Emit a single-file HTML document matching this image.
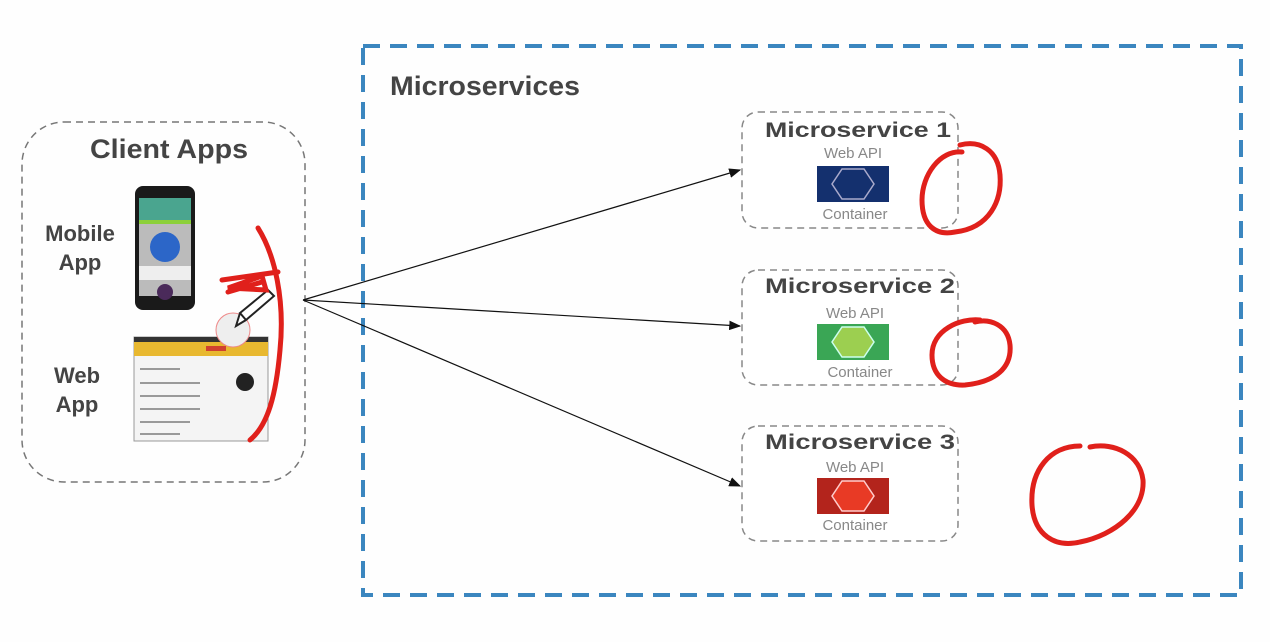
<!DOCTYPE html>
<html><head><style>body{margin:0;background:#fff}svg{display:block}</style></head><body>
<svg width="1270" height="642" viewBox="0 0 1270 642" xmlns="http://www.w3.org/2000/svg" font-family="Liberation Sans, sans-serif">
<defs><marker id="a" markerWidth="10" markerHeight="8" refX="9" refY="4" orient="auto"><path d="M0,0 L10,4 L0,8 z" fill="#111"/></marker></defs>
<rect x="0" y="0" width="1270" height="642" fill="#fefefe"/>
<rect x="363" y="46" width="878" height="549" fill="none" stroke="#3b86bf" stroke-width="4" stroke-dasharray="17 10"/>
<text x="390" y="95" font-size="27" font-weight="bold" fill="#444" textLength="190" lengthAdjust="spacingAndGlyphs">Microservices</text>
<rect x="22" y="122" width="283" height="360" rx="42" fill="none" stroke="#777" stroke-width="1.5" stroke-dasharray="7 5"/>
<text x="90" y="158" font-size="27" font-weight="bold" fill="#444" textLength="158" lengthAdjust="spacingAndGlyphs">Client Apps</text>
<text x="80" y="241" font-size="22" font-weight="bold" fill="#444" text-anchor="middle">Mobile</text>
<text x="80" y="270" font-size="22" font-weight="bold" fill="#444" text-anchor="middle">App</text>
<text x="77" y="383" font-size="22" font-weight="bold" fill="#444" text-anchor="middle">Web</text>
<text x="77" y="412" font-size="22" font-weight="bold" fill="#444" text-anchor="middle">App</text>
<!-- phone -->
<rect x="135" y="186" width="60" height="124" rx="8" fill="#1a1a1a"/>
<rect x="139" y="198" width="52" height="98" fill="#bbb"/>
<rect x="139" y="198" width="52" height="22" fill="#4aa58f"/>
<rect x="139" y="220" width="52" height="4" fill="#8cd03a"/>
<circle cx="165" cy="247" r="15" fill="#2c66c8"/>
<rect x="139" y="266" width="52" height="14" fill="#eee"/>
<circle cx="165" cy="292" r="8" fill="#4a2a5a"/>
<!-- web -->
<rect x="134" y="337" width="134" height="104" fill="#f4f4f4" stroke="#999"/>
<rect x="134" y="337" width="134" height="5" fill="#333"/>
<rect x="134" y="342" width="134" height="14" fill="#e8b830"/>
<rect x="206" y="346" width="20" height="5" fill="#d04030"/>
<circle cx="245" cy="382" r="9" fill="#222"/>
<g fill="#999"><rect x="140" y="368" width="40" height="2"/><rect x="140" y="382" width="60" height="2"/><rect x="140" y="395" width="60" height="2"/><rect x="140" y="408" width="60" height="2"/><rect x="140" y="421" width="50" height="2"/><rect x="140" y="433" width="40" height="2"/></g>
<circle cx="233" cy="330" r="17" fill="#eee" stroke="#e88" stroke-width="1"/>
<path d="M240,313 L268,290 L274,296 L246,320 Z M240,313 L236,326 L246,320" fill="#fff" stroke="#222" stroke-width="2"/>
<!-- arrows -->
<g stroke="#111" stroke-width="1.2" marker-end="url(#a)">
<line x1="303" y1="300" x2="740" y2="170"/>
<line x1="303" y1="300" x2="740" y2="326"/>
<line x1="303" y1="300" x2="740" y2="486"/>
</g>
<!-- microservices -->
<g font-size="21" font-weight="bold" fill="#444">
<rect x="742" y="112" width="216" height="116" rx="16" fill="#fff" stroke="#888" stroke-width="1.5" stroke-dasharray="7 5"/>
<text x="765" y="137" textLength="186" lengthAdjust="spacingAndGlyphs">Microservice 1</text>
<rect x="742" y="270" width="216" height="115" rx="16" fill="#fff" stroke="#888" stroke-width="1.5" stroke-dasharray="7 5"/>
<text x="765" y="293" textLength="190" lengthAdjust="spacingAndGlyphs">Microservice 2</text>
<rect x="742" y="426" width="216" height="115" rx="16" fill="#fff" stroke="#888" stroke-width="1.5" stroke-dasharray="7 5"/>
<text x="765" y="449" textLength="190" lengthAdjust="spacingAndGlyphs">Microservice 3</text>
</g>
<g font-size="15" fill="#888" text-anchor="middle">
<text x="853" y="158">Web API</text><text x="855" y="219">Container</text>
<text x="855" y="318">Web API</text><text x="860" y="377">Container</text>
<text x="855" y="472">Web API</text><text x="855" y="530">Container</text>
</g>
<rect x="817" y="166" width="72" height="36" fill="#14306e"/><polygon points="842,169 864,169 874,184 864,199 842,199 832,184" fill="none" stroke="#aac" stroke-width="1.5"/>
<rect x="817" y="324" width="72" height="36" fill="#3aa655"/><polygon points="842,327 864,327 874,342 864,357 842,357 832,342" fill="#9ccf50" stroke="#cfe" stroke-width="1.5"/>
<rect x="817" y="478" width="72" height="36" fill="#b3241c"/><polygon points="842,481 864,481 874,496 864,511 842,511 832,496" fill="#e83a25" stroke="#fcc" stroke-width="1.5"/>
<!-- red scribbles -->
<g fill="none" stroke="#e0201b" stroke-width="5" stroke-linecap="round">
<path d="M962,152 C940,150 922,175 922,200 C922,225 935,236 955,232 C990,228 1002,200 1000,175 C998,150 980,140 960,145"/>
<path d="M980,320 C960,318 932,330 932,355 C932,375 945,386 965,385 C995,382 1012,368 1010,345 C1008,325 990,318 975,322"/>
<path d="M1080,446 C1050,446 1030,470 1032,505 C1034,535 1055,548 1080,542 C1115,535 1145,510 1143,480 C1140,455 1115,442 1090,447"/>
<path d="M258,228 C275,255 285,300 280,350 C276,395 268,425 250,440"/>
<path d="M222,280 L278,272 M228,292 L262,282 M228,288 L262,276 L266,290 Z"/>
</g>
</svg>
</body></html>
